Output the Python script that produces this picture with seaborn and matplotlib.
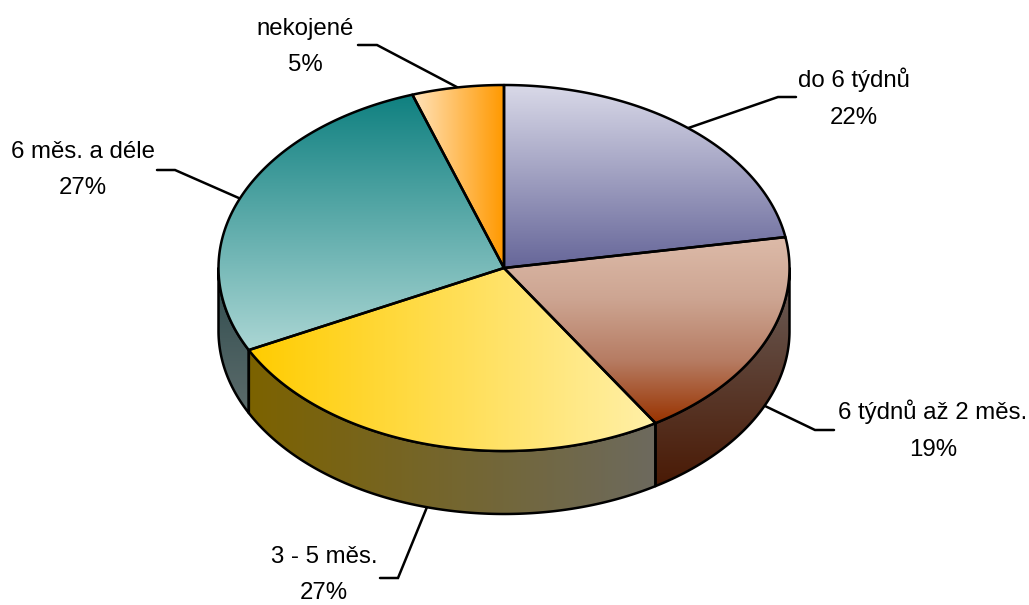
import numpy as np
import matplotlib
matplotlib.use("Agg")
import matplotlib.pyplot as plt
from matplotlib.patches import Polygon
import seaborn as sns

# --- data ---
categories = ["do 6 týdnů", "6 týdnů až 2 měs.", "3 - 5 měs.", "6 měs. a déle", "nekojené"]
shares = [22.3, 18.8, 26.5, 27.2, 5.2]
value_labels = ["22%", "19%", "27%", "27%", "5%"]

# --- styles ---
top_colors = [("#D9D9E8", "#666699"), ("#DDBBA9", "#CDA592", "#B67C63", "#993300"), ("#FFCC00", "#FFF0A8"),
              ("#0F8080", "#ABD6D4"), ("#FFE3BC", "#FF9900")]
top_axis = ["y", "y", "x", "y", "x"]
wall_colors = [None, ("#6C5F5A", "#4A1A05"), ("#7C6200", "#6D6A5E"), ("#2F4C4E", "#5C6B6B"), None]
wall_axis = [None, "y", "x", "y", None]

# --- layout (pixels) ---
CX, CY, RX, RY, DEPTH = 504, 268, 285.5, 183, 63
label_xy = [(854, 98), (933, 430), (324, 575), (83, 170), (305, 47)]
leader_elbow = [(778, 97), (815, 430), (398, 578), (175, 170), (377, 45)]
leader_end = [(796, 97), (834, 430), (380, 578), (157, 170), (358, 45)]
leader_wall = [False, True, True, False, False]
LW = 1.8

sns.set_style("white")
plt.rcParams["font.family"] = ["Liberation Sans", "DejaVu Sans"]
fig = plt.figure(figsize=(10.29, 6.05), dpi=100)
ax = fig.add_axes([0, 0, 1, 1])


def rim(a0, a1, dy=0.0, n=160):
    t = np.radians(np.linspace(a0, a1, n))
    return np.column_stack([CX + RX * np.sin(t), CY - RY * np.cos(t) + dy])


def gradient_fill(poly, colors, axis, z):
    cmap = sns.blend_palette(colors, 256, as_cmap=True)
    x0, y0 = poly.min(axis=0)
    x1, y1 = poly.max(axis=0)
    g = np.linspace(0, 1, 256)
    arr = g[:, None] if axis == "y" else g[None, :]
    im = ax.imshow(arr, cmap=cmap, extent=(x0, x1, y1, y0), origin="upper",
                   aspect="auto", zorder=z, interpolation="bilinear")
    p = Polygon(poly, closed=True, fc="none", ec="black", lw=LW, joinstyle="round", zorder=z + 0.5)
    ax.add_patch(p)
    im.set_clip_path(p)


edges = 360 * np.concatenate([[0], np.cumsum(shares)]) / np.sum(shares)

# walls (only the front half of the rim is visible)
for i in range(len(shares)):
    lo, hi = max(edges[i], 90), min(edges[i + 1], 270)
    if hi <= lo or wall_colors[i] is None:
        continue
    poly = np.vstack([rim(lo, hi), rim(lo, hi, DEPTH)[::-1]])
    gradient_fill(poly, wall_colors[i], wall_axis[i], 2)

# top faces
for i in range(len(shares)):
    poly = np.vstack([[[CX, CY]], rim(edges[i], edges[i + 1])])
    gradient_fill(poly, top_colors[i], top_axis[i], 4)

# leaders and labels
for i, (cat, val) in enumerate(zip(categories, value_labels)):
    mid = (edges[i] + edges[i + 1]) / 2
    anchor = rim(mid, mid, DEPTH if leader_wall[i] else 0, n=1)[0]
    pts = np.array([anchor, leader_elbow[i], leader_end[i]])
    ax.plot(pts[:, 0], pts[:, 1], color="black", lw=LW, zorder=1, solid_joinstyle="miter")
    ax.text(label_xy[i][0], label_xy[i][1], f"{cat}\n{val}", ha="center", va="center", fontsize=17.3,
            color="black", linespacing=1.88, zorder=6)

ax.set_xlim(0, 1029)
ax.set_ylim(605, 0)
ax.axis("off")
fig.savefig("out.png", dpi=100, facecolor="white")
